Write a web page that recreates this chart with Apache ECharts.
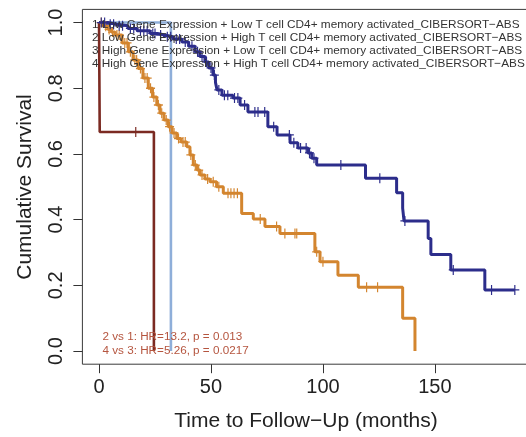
<!DOCTYPE html>
<html>
<head>
<meta charset="utf-8">
<script src="https://cdn.jsdelivr.net/npm/echarts@6/dist/echarts.min.js"></script>
<style>
html,body{margin:0;padding:0;background:#fff;}
#chart{width:526px;height:437px;}
</style>
</head>
<body>
<div id="chart"></div>
<script>
// ---- Data ----
// Group 1: Low Gene Expression + Low T cell (navy)
const g1Times = [0,4,8,12.9,17,22.8,26,29.5,33,37,40,42.9,45,47.3,49,50.9,52,52.7,54.9,59.8,63,66.5,75.4,79.5,85.3,88.8,93.3,95,97.2,119,132.9,135.6,136.2,147,148.2,157.1,172.3,185.7];
const g1Surv  = [1,0.995,0.99,0.982,0.975,0.967,0.962,0.957,0.95,0.941,0.928,0.911,0.897,0.88,0.862,0.84,0.818,0.795,0.779,0.77,0.749,0.728,0.683,0.658,0.634,0.618,0.603,0.587,0.566,0.526,0.482,0.435,0.396,0.343,0.294,0.247,0.186,0.186];
const g1Censor = [1,2.5,5,6.5,9,10.5,14,15.5,18.5,20,21.5,24,25,27.5,30.5,32,34.5,36,38.5,41.5,44,46,48,50,51.5,53.5,56,57.5,60.5,62,65,69.6,71,74,78,85,87,90,92.5,94,96,108,125.4,136.6,158.2,175.3,185.7];

// Group 2: Low Gene Expression + High T cell (dark red)
const g2Times = [0,0.3,24.5];
const g2Surv  = [1,0.667,0];
const g2Censor = [16.4];

// Group 3: High Gene Expression + Low T cell (orange)
const g3Times = [0,2,4,5.5,7.1,10.3,13.1,15.2,17.5,19.6,22,23.9,25.8,27.2,29,30.9,32.6,34.7,36.6,39.2,40.6,42.1,43.8,45.1,47.3,49.6,52.5,55.5,63.7,68.9,74.1,80.8,96.4,98.7,106.7,115.8,135.6,141.1];
const g3Surv  = [1,0.989,0.979,0.971,0.962,0.938,0.911,0.886,0.86,0.831,0.8,0.773,0.749,0.724,0.703,0.683,0.664,0.647,0.636,0.622,0.597,0.566,0.551,0.536,0.524,0.515,0.5,0.48,0.419,0.402,0.379,0.358,0.302,0.272,0.231,0.194,0.0995,0];
const g3Censor = [1,3,4.5,6,8,9,11.5,12.5,14,16,16.8,18.5,20.5,21.5,23,24.5,26.5,28,30,31.5,33.5,35.5,37.5,38.5,41,43,44.5,46,48.5,51,53.5,57.6,58.9,60.3,61.8,72,79.3,83,87.5,88.3,97.2,100,119.5,124.4];

// Group 4: High Gene Expression + High T cell (light blue)
const g4Times = [0,32.1];
const g4Surv  = [1,0];
const g4Censor = [];

const legendLines = [
  '1 Low Gene Expression + Low T cell CD4+ memory activated_CIBERSORT\u2212ABS',
  '2 Low Gene Expression + High T cell CD4+ memory activated_CIBERSORT\u2212ABS',
  '3 High Gene Expression + Low T cell CD4+ memory activated_CIBERSORT\u2212ABS',
  '4 High Gene Expression + High T cell CD4+ memory activated_CIBERSORT\u2212ABS'
];
const statLines = ['2 vs 1: HR=13.2, p = 0.013', '4 vs 3: HR=5.26, p = 0.0217'];
const xTicks = [0,50,100,150];
const yTicks = [0,0.2,0.4,0.6,0.8,1.0];
const xTitle = 'Time to Follow\u2212Up (months)';
const yTitle = 'Cumulative Survival';

// ---- Build ----
const FONT = '"Liberation Sans", Arial, Helvetica, sans-serif';
function pairs(t, s){ return t.map((v,i)=>[v, s[i]]); }
function censorPts(t, s, c){
  return c.map(ct=>{
    let v = s[0];
    for (let i=0;i<t.length;i++){ if (t[i] <= ct) v = s[i]; }
    return [ct, v];
  });
}
const plusPath = 'path://M4.35,0H5.65V10H4.35Z M0,4.35H10V5.65H0Z';

const groups = [
  {t:g4Times, s:g4Surv, c:g4Censor, color:'#8EAED9', w:2.6},
  {t:g2Times, s:g2Surv, c:g2Censor, color:'#7B2A22', w:2.6},
  {t:g3Times, s:g3Surv, c:g3Censor, color:'#D3852F', w:3},
  {t:g1Times, s:g1Surv, c:g1Censor, color:'#2C2D8B', w:3}
];
const series = [];
groups.forEach(g=>{
  series.push({type:'line', step:'end', data:pairs(g.t,g.s), showSymbol:false, symbol:'none',
    lineStyle:{color:g.color, width:g.w}, silent:true, animation:false, z:2});
  series.push({type:'scatter', data:censorPts(g.t,g.s,g.c), symbol:plusPath, symbolSize:[9,10],
    itemStyle:{color:g.color, opacity:1}, silent:true, animation:false, z:3});
});

const chart = echarts.init(document.getElementById('chart'), null, {renderer:'canvas'});
const gridLeft = 82.4, gridTop = 9.4, gridW = 449, gridH = 354.8;
const graphics = [];
legendLines.forEach((txt,i)=>{
  graphics.push({type:'text', x:92, y:24.5 + i*13.1, z:10,
    style:{text:txt, fill:'#333', font:'11.8px ' + FONT, verticalAlign:'middle', align:'left'}});
});
statLines.forEach((txt,i)=>{
  graphics.push({type:'text', x:102.5, y:337 + i*14, z:10,
    style:{text:txt, fill:'#B5553F', font:'11.7px ' + FONT, verticalAlign:'middle', align:'left'}});
});
graphics.push({type:'text', x:306, y:421, z:10,
  style:{text:xTitle, fill:'#222', font:'21px ' + FONT, verticalAlign:'middle', align:'center'}});
graphics.push({type:'text', x:25, y:187, rotation:Math.PI/2, z:10,
  style:{text:yTitle, fill:'#222', font:'21px ' + FONT, verticalAlign:'middle', align:'center'}});

chart.setOption({
  animation:false,
  backgroundColor:'#fff',
  grid:{left:gridLeft, top:gridTop, width:gridW, height:gridH, show:true, borderColor:'#3a3a3a', borderWidth:1,
    containLabel:false, outerBoundsMode:'none'},
  xAxis:{type:'value', min:-7.43, max:193.1,
    axisLine:{show:false, onZero:false},
    splitLine:{show:false},
    axisTick:{show:true, inside:false, length:9, customValues:xTicks, lineStyle:{color:'#333', width:1}},
    axisLabel:{show:true, customValues:xTicks, margin:13, color:'#222', fontSize:20, fontFamily:FONT,
      formatter:v=>String(v)}},
  yAxis:{type:'value', min:-0.04, max:1.04,
    axisLine:{show:false, onZero:false},
    splitLine:{show:false},
    axisTick:{show:true, inside:false, length:9, customValues:yTicks, lineStyle:{color:'#333', width:1}},
    axisLabel:{show:true, customValues:yTicks, margin:16, rotate:90, color:'#222', fontSize:20, fontFamily:FONT,
      formatter:v=>Number(v).toFixed(1)}},
  graphic:graphics,
  series:series
});
</script>
</body>
</html>
